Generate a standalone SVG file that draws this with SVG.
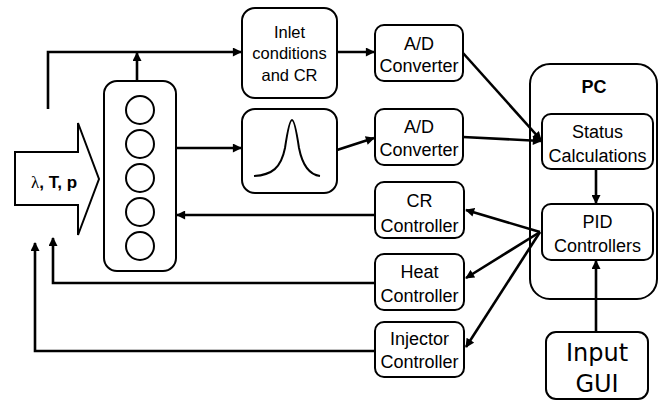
<svg xmlns="http://www.w3.org/2000/svg" width="664" height="401" viewBox="0 0 664 401">
<defs>
<style>
.box{fill:#fff;stroke:#000;stroke-width:2}
.ln{fill:none;stroke:#000;stroke-width:2.6;marker-end:url(#ah)}
.t{font-family:"Liberation Sans",Arial,sans-serif;font-size:18px;text-anchor:middle;fill:#000}
.s{font-size:16.5px}
</style>
<marker id="ah" viewBox="0 0 10 10" refX="9" refY="5" markerWidth="10" markerHeight="9" markerUnits="userSpaceOnUse" orient="auto">
<path d="M0,0 L10,5 L0,10 z" fill="#000"/>
</marker>
</defs>
<rect width="664" height="401" fill="#fff"/>
<g id="input-arrow">
<polygon points="15,152 78,152 78,123 99,179 78,235 78,205 15,205" fill="#fff" stroke="#000" stroke-width="2"/>
<text x="54" y="188" font-family="'Liberation Sans',Arial,sans-serif" font-size="17" font-weight="bold" text-anchor="middle"><tspan font-family="'Liberation Serif','Times New Roman',serif" font-weight="normal">λ</tspan>, T, p</text>
</g>
<g id="engine">
<rect class="box" x="104" y="81" width="72" height="190" rx="13"/>
<g fill="none" stroke="#000" stroke-width="2">
<circle cx="140" cy="110" r="14"/>
<circle cx="140" cy="144" r="14"/>
<circle cx="140" cy="178" r="14"/>
<circle cx="140" cy="212" r="14"/>
<circle cx="140" cy="246" r="14"/>
</g>
</g>
<g id="inlet">
<rect class="box" x="242" y="8" width="95" height="90" rx="13"/>
<text class="t s" x="289.5" y="38">Inlet</text>
<text class="t s" x="289.5" y="59">conditions</text>
<text class="t s" x="289.5" y="81">and CR</text>
</g>
<g id="peak">
<rect class="box" x="242" y="109" width="95" height="84" rx="13"/>
<path d="M254,176 C272,175 281,168 285,148 C288,128 290,120 292,120 C294,120 296,128 299,148 C303,168 312,175 320,176" fill="none" stroke="#000" stroke-width="2"/>
</g>
<g id="ad1">
<rect class="box" x="375" y="25" width="88" height="56" rx="9"/>
<text class="t" x="419" y="50">A/D</text>
<text class="t" x="419" y="72">Converter</text>
</g>
<g id="ad2">
<rect class="box" x="375" y="109" width="88" height="56" rx="9"/>
<text class="t" x="419" y="133">A/D</text>
<text class="t" x="419" y="156">Converter</text>
</g>
<g id="cr-controller">
<rect class="box" x="375" y="182" width="89" height="56" rx="9"/>
<text class="t" x="419.5" y="207" font-size="20">CR</text>
<text class="t" x="419.5" y="232">Controller</text>
</g>
<g id="heat-controller">
<rect class="box" x="375" y="254" width="89" height="56" rx="9"/>
<text class="t" x="419.5" y="278">Heat</text>
<text class="t" x="419.5" y="302">Controller</text>
</g>
<g id="injector-controller">
<rect class="box" x="375" y="322" width="89" height="55" rx="9"/>
<text class="t" x="419.5" y="345">Injector</text>
<text class="t" x="419.5" y="368">Controller</text>
</g>
<g id="pc">
<rect class="box" x="530" y="64" width="127" height="235" rx="20"/>
<text class="t" x="594" y="93" font-size="16" font-weight="bold">PC</text>
</g>
<g id="status">
<rect class="box" x="542" y="114" width="111" height="55" rx="9"/>
<text class="t" x="597.5" y="138">Status</text>
<text class="t" x="597.5" y="162">Calculations</text>
</g>
<g id="pid">
<rect class="box" x="542" y="204" width="111" height="56" rx="9"/>
<text class="t" x="597.5" y="228">PID</text>
<text class="t" x="597.5" y="252">Controllers</text>
</g>
<g id="input-gui">
<rect class="box" x="546" y="332" width="102" height="67" rx="10"/>
<text x="597" y="361" font-family="'DejaVu Sans',Verdana,sans-serif" font-size="24" text-anchor="middle">Input</text>
<text x="597" y="392" font-family="'DejaVu Sans',Verdana,sans-serif" font-size="24" text-anchor="middle">GUI</text>
</g>
<g id="connectors">
<polyline class="ln" points="48,109 48,52 241,52"/>
<line class="ln" x1="137" y1="81" x2="137" y2="53"/>
<line class="ln" x1="176" y1="148" x2="241" y2="148"/>
<line class="ln" x1="337" y1="52" x2="374" y2="52"/>
<line class="ln" x1="337" y1="150" x2="374" y2="138"/>
<line class="ln" x1="463" y1="53" x2="541" y2="140"/>
<line class="ln" x1="463" y1="137" x2="541" y2="141"/>
<line class="ln" x1="596" y1="170" x2="596" y2="203"/>
<line class="ln" x1="596" y1="331" x2="596" y2="261"/>
<line class="ln" x1="540" y1="232" x2="466" y2="210"/>
<line class="ln" x1="540" y1="232" x2="466" y2="278"/>
<line class="ln" x1="540" y1="232" x2="466" y2="347"/>
<line class="ln" x1="375" y1="215" x2="177" y2="215"/>
<polyline class="ln" points="375,283 53,283 53,238"/>
<polyline class="ln" points="375,351 35,351 35,243"/>
</g>
</svg>
